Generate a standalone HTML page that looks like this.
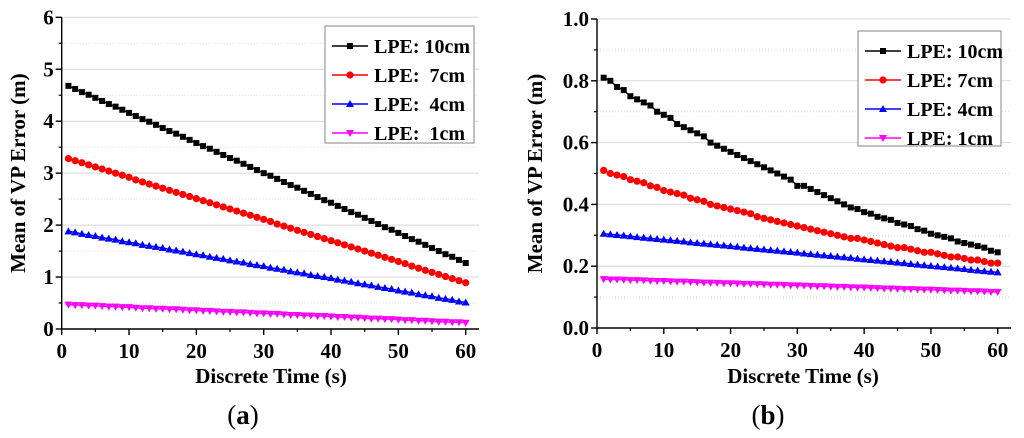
<!DOCTYPE html>
<html><head><meta charset="utf-8"><style>
html,body{margin:0;padding:0;background:#fff;}
svg{display:block;font-family:"Liberation Serif",serif;font-weight:bold;}
</style></head><body>
<svg id="fig" width="1024" height="438" viewBox="0 0 1024 438" xmlns="http://www.w3.org/2000/svg"></svg>
<script>
const timeSteps = Array.from({length:60},(_, i)=>i+1);
const seriesNames = ["LPE: 10cm","LPE: 7cm","LPE: 4cm","LPE: 1cm"];
const seriesNamesA = ["LPE: 10cm","LPE:  7cm","LPE:  4cm","LPE:  1cm"];
const xTicks = [0,10,20,30,40,50,60];
const yTicksA = [0,1,2,3,4,5,6];
const yTickLabelsA = ["0","1","2","3","4","5","6"];
const yTicksB = [0,0.2,0.4,0.6,0.8,1.0];
const yTickLabelsB = ["0.0","0.2","0.4","0.6","0.8","1.0"];
const a10 = [4.68,4.62,4.56,4.51,4.45,4.39,4.33,4.28,4.22,4.16,4.10,4.04,3.99,3.93,3.87,3.81,3.76,3.70,3.64,3.58,3.52,3.47,3.41,3.35,3.29,3.24,3.18,3.12,3.06,3.00,2.95,2.89,2.83,2.77,2.72,2.66,2.60,2.54,2.48,2.43,2.37,2.31,2.25,2.20,2.14,2.08,2.02,1.96,1.91,1.85,1.79,1.73,1.68,1.62,1.56,1.50,1.44,1.39,1.33,1.27];
const a7 = [3.28,3.24,3.20,3.16,3.12,3.08,3.04,3.00,2.96,2.92,2.87,2.83,2.79,2.75,2.71,2.67,2.63,2.59,2.55,2.51,2.47,2.43,2.39,2.35,2.31,2.27,2.23,2.19,2.15,2.11,2.07,2.02,1.98,1.94,1.90,1.86,1.82,1.78,1.74,1.70,1.66,1.62,1.58,1.54,1.50,1.46,1.42,1.38,1.34,1.30,1.26,1.21,1.17,1.13,1.09,1.05,1.01,0.97,0.93,0.89];
const a4 = [1.88,1.86,1.83,1.81,1.79,1.76,1.74,1.72,1.69,1.67,1.65,1.62,1.60,1.58,1.56,1.53,1.51,1.49,1.46,1.44,1.42,1.39,1.37,1.35,1.32,1.30,1.28,1.25,1.23,1.21,1.18,1.16,1.14,1.11,1.09,1.07,1.04,1.02,1.00,0.98,0.95,0.93,0.91,0.88,0.86,0.84,0.81,0.79,0.77,0.74,0.72,0.70,0.67,0.65,0.63,0.60,0.58,0.56,0.53,0.51];
const a1 = [0.47,0.46,0.46,0.45,0.45,0.44,0.43,0.43,0.42,0.42,0.41,0.40,0.40,0.39,0.39,0.38,0.38,0.37,0.36,0.36,0.35,0.35,0.34,0.33,0.33,0.32,0.32,0.31,0.30,0.30,0.29,0.29,0.28,0.27,0.27,0.26,0.26,0.25,0.25,0.24,0.23,0.23,0.22,0.22,0.21,0.20,0.20,0.19,0.19,0.18,0.17,0.17,0.16,0.16,0.15,0.14,0.14,0.13,0.13,0.12];
const b10 = [0.81,0.80,0.78,0.77,0.75,0.74,0.73,0.72,0.70,0.69,0.68,0.66,0.65,0.64,0.63,0.62,0.60,0.59,0.58,0.57,0.56,0.55,0.54,0.53,0.52,0.51,0.50,0.49,0.48,0.46,0.46,0.45,0.44,0.43,0.42,0.41,0.40,0.39,0.385,0.375,0.37,0.36,0.355,0.35,0.34,0.335,0.33,0.32,0.315,0.305,0.30,0.295,0.29,0.28,0.275,0.27,0.265,0.26,0.25,0.245];
const b7 = [0.51,0.50,0.495,0.49,0.48,0.475,0.47,0.46,0.455,0.445,0.44,0.435,0.43,0.42,0.415,0.41,0.40,0.395,0.39,0.385,0.38,0.375,0.37,0.36,0.355,0.35,0.345,0.34,0.335,0.33,0.325,0.32,0.315,0.31,0.305,0.30,0.295,0.29,0.29,0.285,0.28,0.275,0.27,0.265,0.26,0.26,0.255,0.25,0.245,0.245,0.24,0.235,0.23,0.23,0.225,0.22,0.22,0.215,0.21,0.21];
const b4 = [0.305,0.303,0.301,0.299,0.297,0.294,0.292,0.290,0.288,0.286,0.284,0.282,0.280,0.277,0.275,0.273,0.271,0.269,0.267,0.265,0.263,0.260,0.258,0.256,0.254,0.252,0.250,0.248,0.246,0.244,0.241,0.239,0.237,0.235,0.233,0.231,0.229,0.227,0.224,0.222,0.220,0.218,0.216,0.214,0.212,0.210,0.207,0.205,0.203,0.201,0.199,0.197,0.195,0.193,0.191,0.188,0.186,0.184,0.182,0.180];
const b1 = [0.158,0.157,0.157,0.156,0.155,0.155,0.154,0.153,0.152,0.152,0.151,0.150,0.150,0.149,0.148,0.147,0.147,0.146,0.145,0.145,0.144,0.143,0.143,0.142,0.141,0.140,0.140,0.139,0.138,0.138,0.137,0.136,0.135,0.135,0.134,0.133,0.133,0.132,0.131,0.131,0.130,0.129,0.128,0.128,0.127,0.126,0.126,0.125,0.124,0.124,0.123,0.122,0.121,0.121,0.120,0.119,0.119,0.118,0.117,0.117];

const NS="http://www.w3.org/2000/svg";
const svg=document.getElementById('fig');
function mk(tag,attrs,parent,text){const e=document.createElementNS(NS,tag);for(const k in attrs)e.setAttribute(k,attrs[k]);if(text!==undefined)e.textContent=text;(parent||svg).appendChild(e);return e;}
const colors=["#000000","#ff0000","#0000ff","#ff00ff"];
const shapes=["square","circle","up","down"];

function marker(g,shape,x,y,c){
  let e;
  if(shape==="square") e=mk('rect',{x:x-3,y:y-3,width:6,height:6,fill:c},g);
  else if(shape==="circle") e=mk('circle',{cx:x,cy:y,r:3.6,fill:c},g);
  else if(shape==="up") e=mk('polygon',{points:`${x},${y-4} ${x-4},${y+3} ${x+4},${y+3}`,fill:c},g);
  else e=mk('polygon',{points:`${x},${y+4} ${x-4},${y-3} ${x+4},${y-3}`,fill:c},g);
  return e;
}

function chart(cfg){
  const {id,x0,x1,xEnd,y0,yTop,yMax,yTicks,yLabels,series,names,leg,titleX,yTitleX,caption,capX}=cfg;
  const g=mk('g',{});
  
  
  const sx=v=>x0+(x1-x0)*v/60;
  const sy=v=>y0-(y0-yTop)*v/yMax;
  const step=yTicks[1]-yTicks[0];
  // grid
  for(let i=0;i<yTicks.length;i++){
    const v=yTicks[i];
    if(i>0){const l=mk('line',{x1:x0,x2:xEnd,y1:sy(v),y2:sy(v),stroke:"#d8d8d8","stroke-width":1},g);
      }
    const vm=v+step/2;
    if(vm<yMax){const l=mk('line',{x1:x0,x2:xEnd,y1:sy(vm),y2:sy(vm),stroke:"#d8d8d8","stroke-width":1,"stroke-dasharray":"1,2"},g);
      }
  }
  // axes
  const ax=mk('path',{d:`M${x0},${yTop} V${y0} H${xEnd}`,stroke:"#000",fill:"none","stroke-width":1.4},g);
  
  for(let i=0;i<yTicks.length;i++){
    const v=yTicks[i];
    mk('line',{x1:x0-6,x2:x0,y1:sy(v),y2:sy(v),stroke:"#000","stroke-width":1.4},g);
    if(i<yTicks.length-1) mk('line',{x1:x0-3,x2:x0,y1:sy(v+step/2),y2:sy(v+step/2),stroke:"#000","stroke-width":1.2},g);
    const t=mk('text',{x:x0-8,y:sy(v)+7,"text-anchor":"end","font-size":21},g,yLabels[i]);
    
  }
  for(let i=0;i<xTicks.length;i++){
    const v=xTicks[i];
    mk('line',{x1:sx(v),x2:sx(v),y1:y0,y2:y0+6,stroke:"#000","stroke-width":1.4},g);
    if(i<xTicks.length-1) mk('line',{x1:sx(v+5),x2:sx(v+5),y1:y0,y2:y0+3,stroke:"#000","stroke-width":1.2},g);
    const t=mk('text',{x:sx(v),y:y0+29,"text-anchor":"middle","font-size":21},g,String(v));
    
  }
  const xt=mk('text',{x:titleX,y:383,"text-anchor":"middle","font-size":21},g,"Discrete Time (s)");
  
  const yc=(y0+yTop)/2;
  const yt=mk('text',{x:yTitleX,y:yc,"text-anchor":"middle","font-size":21,transform:`rotate(-90 ${yTitleX} ${yc})`,dy:7},g,"Mean of VP Error (m)");
  
  const cp=mk('text',{x:capX,y:424,"text-anchor":"middle","font-size":27,"font-weight":"normal"},g);
  mk('tspan',{},cp,"(");mk('tspan',{"font-weight":"bold"},cp,caption);mk('tspan',{},cp,")");
  
  // series
  series.forEach((s,k)=>{
    const sg=mk('g',{},g);
    
    
    const pts=s.map((v,i)=>`${sx(timeSteps[i]).toFixed(2)},${sy(v).toFixed(2)}`).join(' ');
    const pl=mk('polyline',{points:pts,fill:"none",stroke:colors[k],"stroke-width":1.5},sg);
    
    s.forEach((v,i)=>{const m=marker(sg,shapes[k],sx(timeSteps[i]),sy(v),colors[k]);
      });
  });
  // legend
  const lg=mk('g',{},g);
  
  mk('rect',{x:leg.x,y:leg.y,width:leg.w,height:leg.h,fill:"#fff",stroke:"#999","stroke-width":1.2},lg);
  names.forEach((n,k)=>{
    const ey=leg.y+20+k*29;
    const e=mk('g',{},lg);
    
    mk('line',{x1:leg.x+7,x2:leg.x+43,y1:ey,y2:ey,stroke:colors[k],"stroke-width":1.5},e);
    marker(e,shapes[k],leg.x+25,ey,colors[k]);
    mk('text',{x:leg.x+49,y:ey+7,"font-size":20,"xml:space":"preserve",style:"white-space:pre"},e,n);
  });
}
chart({id:'a',x0:61.7,x1:465.7,xEnd:479,y0:329,yTop:17.3,yMax:6,yTicks:yTicksA,yLabels:yTickLabelsA,
  series:[a10,a7,a4,a1],names:seriesNamesA,leg:{x:325,y:26,w:149,h:117},titleX:271,yTitleX:18,caption:"a",capX:243});
chart({id:'b',x0:597,x1:997.7,xEnd:1011,y0:328,yTop:19,yMax:1.0,yTicks:yTicksB,yLabels:yTickLabelsB,
  series:[b10,b7,b4,b1],names:seriesNames,leg:{x:858,y:31,w:143,h:115},titleX:803,yTitleX:535,caption:"b",capX:768});
</script>
</body></html>
